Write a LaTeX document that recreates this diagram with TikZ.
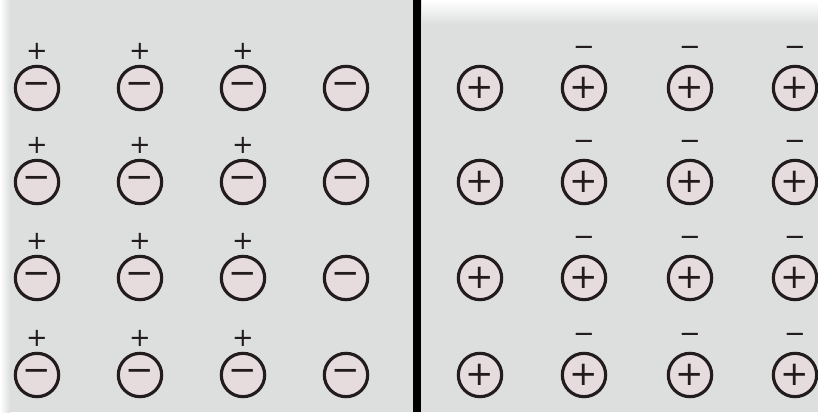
\documentclass[tikz,border=0pt]{standalone}
\usepackage{xcolor}
\usepackage{fontspec}
\usepackage{tikz}
\usetikzlibrary{positioning}
\newfontfamily\signfont{DejaVu Sans}
\definecolor{paper}{RGB}{221,223,223}
\definecolor{ionfill}{RGB}{230,220,222}
\definecolor{ink}{RGB}{35,28,30}
\tikzstyle{ion}=[circle,draw=ink,line width=2.7pt,fill=ionfill,minimum size=37pt,inner sep=0pt,text=ink,font=\signfont\fontsize{29}{29}\selectfont]
\tikzstyle{charge}=[inner sep=0pt,text=ink,font=\signfont\fontsize{22}{22}\selectfont]

\begin{document}
\begin{tikzpicture}[x=0.03cm,y=-0.03cm]
    % paper
    \fill[paper] (0,0) rectangle (818,412);
    \shade[top color=white,bottom color=paper] (422,0) rectangle (818,24);
    \shade[left color=white,right color=paper] (0,0) rectangle (10,412);
    \useasboundingbox (0,0) rectangle (818,412);

    % left side: negative ions
    \foreach \r/\y in {1/88,2/182,3/278,4/375} {
        \foreach \c/\x in {1/37,2/140,3/243,4/346} {
            \node [ion] (l-\r-\c) at (\x,\y) {−};
        }
        \foreach \c in {1,2,3} {
            \node [charge,above=11pt of l-\r-\c.north,anchor=center] (lq-\r-\c) {+};
        }
    }

    % divider
    \coordinate (top) at (417,0);
    \coordinate (bottom) at (417,412);
    \draw [line width=6.5pt,black] (top) -- (bottom);

    % right side: positive ions
    \foreach \r/\y in {1/88,2/182,3/278,4/375} {
        \foreach \c/\x in {1/480,2/584,3/690,4/795} {
            \node [ion] (r-\r-\c) at (\x,\y) {+};
        }
        \foreach \c in {2,3,4} {
            \node [charge,above=12pt of r-\r-\c.north,anchor=center] (rq-\r-\c) {−};
        }
    }
\end{tikzpicture}
\end{document}
